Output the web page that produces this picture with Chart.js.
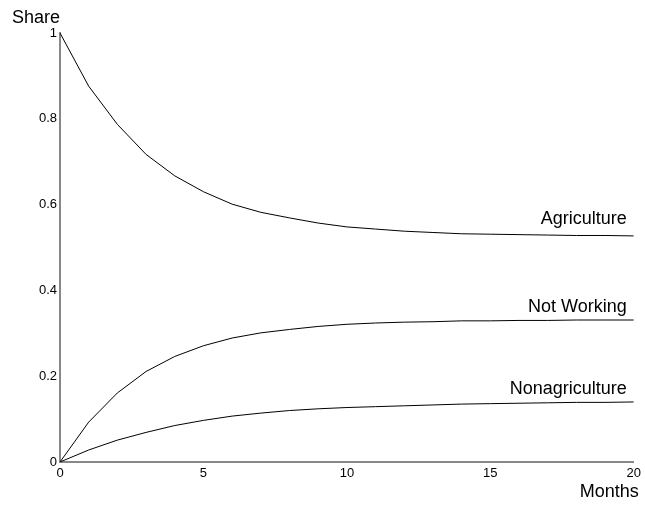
<!DOCTYPE html>
<html>
<head>
<meta charset="utf-8">
<script src="https://cdn.jsdelivr.net/npm/chart.js@4/dist/chart.umd.min.js"></script>
<style>
  html, body { margin: 0; padding: 0; background: #fff; }
  canvas { display: block; }
</style>
</head>
<body>
<canvas id="c" width="645" height="506"></canvas>
<script>
const months = [0,1,2,3,4,5,6,7,8,9,10,11,12,13,14,15,16,17,18,19,20];
const agriculture = [1, 0.876, 0.787, 0.717, 0.667, 0.630, 0.601, 0.582, 0.569, 0.557, 0.548, 0.543, 0.538, 0.535, 0.532, 0.531, 0.530, 0.529, 0.528, 0.528, 0.527];
const notWorking = [0, 0.093, 0.161, 0.211, 0.246, 0.271, 0.289, 0.301, 0.309, 0.316, 0.321, 0.324, 0.326, 0.327, 0.329, 0.329, 0.330, 0.330, 0.331, 0.331, 0.331];
const nonagriculture = [0, 0.028, 0.051, 0.069, 0.085, 0.097, 0.107, 0.114, 0.120, 0.124, 0.127, 0.129, 0.131, 0.133, 0.135, 0.136, 0.137, 0.138, 0.139, 0.139, 0.140];
const yTicks = [0, 0.2, 0.4, 0.6, 0.8, 1];
const xTicks = [0, 5, 10, 15, 20];
const seriesNames = ['Agriculture', 'Not Working', 'Nonagriculture'];
// label anchors in data coordinates (x month, y share of baseline)
const labelAnchorY = [0.554, 0.350, 0.158];

const FONT = '"Liberation Sans", Arial, Helvetica, sans-serif';

function toPoints(vals) { return months.map((m, i) => ({ x: m, y: vals[i] })); }

const textPlugin = {
  id: 'texts',
  afterDraw(chart) {
    const { ctx, chartArea, scales } = chart;
    ctx.save();
    ctx.fillStyle = '#000';
    ctx.font = '18px ' + FONT;
    ctx.textBaseline = 'alphabetic';
    // series labels
    ctx.textAlign = 'right';
    const xEnd = scales.x.getPixelForValue(months[months.length - 1]) - 7;
    seriesNames.forEach((name, i) => {
      ctx.fillText(name, xEnd, scales.y.getPixelForValue(labelAnchorY[i]));
    });
    // axis titles
    ctx.textAlign = 'left';
    ctx.fillText('Share', chartArea.left - 48, chartArea.top - 10);
    ctx.textAlign = 'right';
    ctx.fillText('Months', chartArea.right + 5, chartArea.bottom + 35);
    ctx.restore();
  }
};

new Chart(document.getElementById('c'), {
  type: 'line',
  data: {
    datasets: [
      { label: seriesNames[0], data: toPoints(agriculture) },
      { label: seriesNames[1], data: toPoints(notWorking) },
      { label: seriesNames[2], data: toPoints(nonagriculture) }
    ].map(d => Object.assign(d, {
      borderColor: '#000', borderWidth: 1, pointRadius: 0, tension: 0, fill: false
    }))
  },
  options: {
    responsive: false,
    animation: false,
    devicePixelRatio: 1,
    layout: { padding: { top: 33, right: 10, left: 0, bottom: 0 } },
    plugins: { legend: { display: false }, tooltip: { enabled: false } },
    scales: {
      x: {
        type: 'linear', min: 0, max: 20,
        afterFit(s) { s.height = 44; },
        afterBuildTicks(s) { s.ticks = xTicks.map(v => ({ value: v })); },
        grid: { display: false, drawTicks: false },
        border: { display: true, color: '#888', width: 2 },
        ticks: { color: '#000', padding: 4, maxRotation: 0, autoSkip: false,
                 font: { family: FONT, size: 13 }, callback: v => String(v) }
      },
      y: {
        type: 'linear', min: 0, max: 1,
        afterFit(s) { s.width = 60; },
        afterBuildTicks(s) { s.ticks = yTicks.map(v => ({ value: v })); },
        grid: { display: false, drawTicks: false },
        border: { display: true, color: '#888', width: 2 },
        ticks: { color: '#000', padding: 3, autoSkip: false,
                 font: { family: FONT, size: 13 }, callback: v => String(+v.toFixed(1)) }
      }
    }
  },
  plugins: [textPlugin]
});
</script>
</body>
</html>
